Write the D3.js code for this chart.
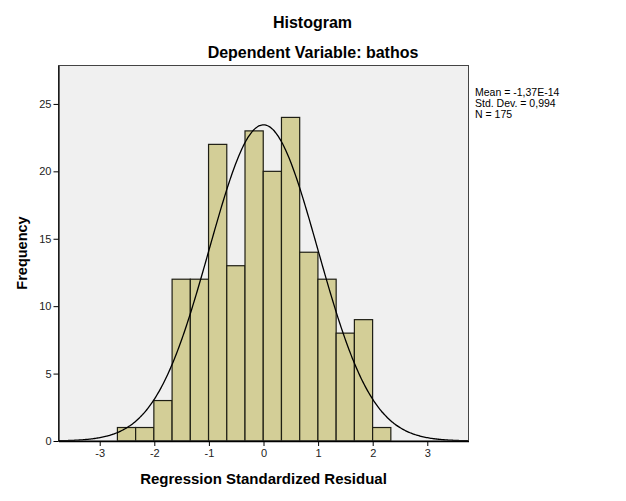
<!DOCTYPE html>
<html>
<head>
<meta charset="utf-8">
<script src="https://cdn.jsdelivr.net/npm/d3@7"></script>
<style>
  html, body { margin: 0; padding: 0; background: #fff; }
  svg { display: block; font-family: Arial, "Liberation Sans", sans-serif; }
</style>
</head>
<body>
<svg id="chart" width="626" height="501"></svg>
<script>
// ---- data ----
const title = "Histogram";
const subtitle = "Dependent Variable: bathos";
const xLabel = "Regression Standardized Residual";
const yLabel = "Frequency";
const binStart = -2.676;
const binWidth = 0.3339;
const counts = [1, 1, 3, 12, 12, 22, 13, 23, 20, 24, 14, 12, 8, 9, 1];
const stats = { mean: -1.37e-14, sd: 0.994, n: 175 };
const statLines = ["Mean = -1,37E-14", "Std. Dev. = 0,994", "N = 175"];
const xTicks = [-3, -2, -1, 0, 1, 2, 3];
const yTicks = [0, 5, 10, 15, 20, 25];
const xDomain = [-3.755, 3.755];
const yDomain = [0, 27.85];

// ---- layout ----
const svg = d3.select("#chart");
const pLeft = 58.5, pRight = 468.5, pTop = 65.5, pBottom = 441;

const x = d3.scaleLinear().domain(xDomain).range([pLeft, pRight]);
const y = d3.scaleLinear().domain(yDomain).range([pBottom, pTop]);

// plot background
svg.append("rect")
  .attr("x", pLeft).attr("y", pTop)
  .attr("width", pRight - pLeft).attr("height", pBottom - pTop)
  .attr("fill", "#f0f0f0");

// bars
const bins = counts.map((c, i) => ({ x0: binStart + i * binWidth, x1: binStart + (i + 1) * binWidth, c }));
svg.append("g").selectAll("rect").data(bins).join("rect")
  .attr("x", d => x(d.x0))
  .attr("y", d => y(d.c))
  .attr("width", d => x(d.x1) - x(d.x0))
  .attr("height", d => y(0) - y(d.c))
  .attr("fill", "#d3ce97")
  .attr("stroke", "#1e1e14")
  .attr("stroke-width", 1.2);

// normal curve
const pdf = v => Math.exp(-0.5 * Math.pow((v - stats.mean) / stats.sd, 2)) / (stats.sd * Math.sqrt(2 * Math.PI));
const curvePts = d3.range(xDomain[0], xDomain[1] + 0.0001, 0.02).map(v => [v, stats.n * binWidth * pdf(v)]);
svg.append("path")
  .datum(curvePts)
  .attr("fill", "none")
  .attr("stroke", "#000")
  .attr("stroke-width", 1.3)
  .attr("d", d3.line().x(d => x(d[0])).y(d => y(d[1])).curve(d3.curveBasis));

// frame
svg.append("rect")
  .attr("x", pLeft).attr("y", pTop)
  .attr("width", pRight - pLeft).attr("height", pBottom - pTop)
  .attr("fill", "none")
  .attr("stroke", "#444")
  .attr("stroke-width", 1);

// axes
const xAxis = d3.axisBottom(x).tickValues(xTicks).tickSize(5).tickSizeOuter(0).tickPadding(3)
  .tickFormat(d => d < 0 ? "-" + Math.abs(d) : d);
const gx = svg.append("g").attr("transform", `translate(0,${pBottom})`).call(xAxis);
gx.select(".domain").attr("stroke", "#000").attr("stroke-width", 1.5);
gx.selectAll(".tick line").attr("stroke", "#000");
gx.selectAll("text").attr("font-size", 11).attr("fill", "#222").attr("font-family", "Arial, 'Liberation Sans', sans-serif");

const yAxis = d3.axisLeft(y).tickValues(yTicks).tickSize(5).tickSizeOuter(0).tickPadding(2);
const gy = svg.append("g").attr("transform", `translate(${pLeft},0)`).call(yAxis);
gy.select(".domain").attr("stroke", "#000").attr("stroke-width", 1.2);
gy.selectAll(".tick line").attr("stroke", "#000");
gy.selectAll("text").attr("font-size", 11).attr("fill", "#222").attr("font-family", "Arial, 'Liberation Sans', sans-serif");

// titles
svg.append("text").attr("x", 312.5).attr("y", 28).attr("text-anchor", "middle")
  .attr("font-size", 16).attr("font-weight", "bold").text(title);
svg.append("text").attr("x", 313).attr("y", 58).attr("text-anchor", "middle")
  .attr("font-size", 16).attr("font-weight", "bold").text(subtitle);
svg.append("text").attr("x", 263.5).attr("y", 484).attr("text-anchor", "middle")
  .attr("font-size", 15).attr("font-weight", "bold").text(xLabel);
svg.append("text").attr("transform", "translate(27,253) rotate(-90)").attr("text-anchor", "middle")
  .attr("font-size", 14.5).attr("font-weight", "bold").text(yLabel);

// stats legend
svg.append("g").selectAll("text").data(statLines).join("text")
  .attr("x", 475).attr("y", (d, i) => 96 + i * 11)
  .attr("font-size", 10.5).attr("fill", "#000").text(d => d);
</script>
</body>
</html>
